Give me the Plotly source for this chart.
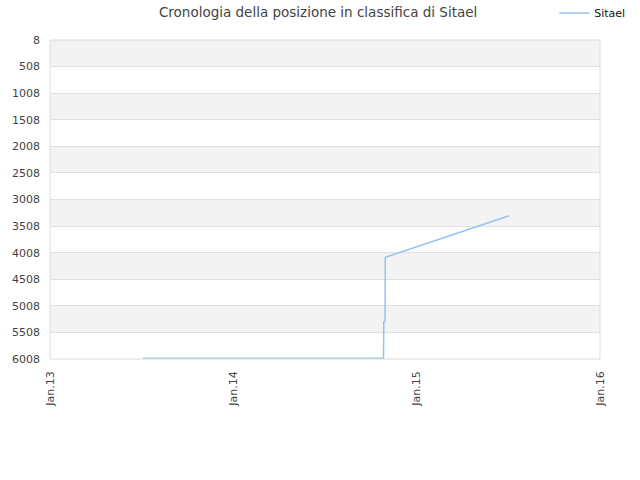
import plotly.graph_objects as go

dates = ["2013-07-05", "2014-10-27", "2014-10-27 12:00", "2014-10-30", "2014-10-30 12:00", "2015-07-04"]
ranks = [5995, 5995, 5307, 5300, 4096, 3313]
series_name = "Sitael"
title_text = "Cronologia della posizione in classifica di Sitael"
ytick_vals = [8 + 500 * i for i in range(13)]
xtick_vals = ["2013-01-01", "2014-01-01", "2015-01-01", "2016-01-01"]
xtick_text = ["Jan.13", "Jan.14", "Jan.15", "Jan.16"]

fig = go.Figure()
fig.add_trace(go.Scatter(x=dates, y=ranks, mode="lines", name=series_name,
                         line=dict(color="#92c3f2", width=1.5)))

shapes = []
for i in range(0, len(ytick_vals) - 1, 2):
    shapes.append(dict(type="rect", xref="paper", yref="y", x0=0, x1=1,
                       y0=ytick_vals[i], y1=ytick_vals[i + 1],
                       fillcolor="#f3f3f3", line=dict(width=0), layer="below"))
shapes.append(dict(type="rect", xref="paper", yref="paper", x0=0, x1=1, y0=0, y1=1,
                   line=dict(color="#dcdcdc", width=1), layer="above"))

fig.update_layout(
    width=640, height=480,
    margin=dict(l=50, r=40, t=40, b=121, autoexpand=False),
    paper_bgcolor="white", plot_bgcolor="white",
    font=dict(family="DejaVu Sans", size=11, color="#444"),
    title=dict(text=title_text, x=0.497, xanchor="center", xref="container",
               y=0.975, yanchor="middle", yref="container",
               font=dict(size=13.5, color="#444")),
    showlegend=True,
    legend=dict(x=0.866, xanchor="left", y=0.973, yanchor="middle",
                xref="container", yref="container",
                bgcolor="rgba(0,0,0,0)", font=dict(size=11, color="#111"),
                itemwidth=30),
    shapes=shapes,
    xaxis=dict(type="date", range=["2013-01-01", "2016-01-01"], tickvals=xtick_vals,
               ticktext=xtick_text, tickangle=-90, showgrid=False, zeroline=False,
               showline=False, ticks="", automargin=False, ticklabelstandoff=9,
               tickfont=dict(size=11, color="#444")),
    yaxis=dict(range=[6008, 8], tickvals=ytick_vals, ticktext=[str(v) for v in ytick_vals],
               showgrid=True, gridcolor="#e0e0e0", gridwidth=1, zeroline=False,
               showline=False, ticks="", automargin=False, ticklabelstandoff=9,
               tickfont=dict(size=11, color="#444")),
)

fig.write_html("out.html", config={"displayModeBar": False},
               post_script="document.body.style.margin='0';")
